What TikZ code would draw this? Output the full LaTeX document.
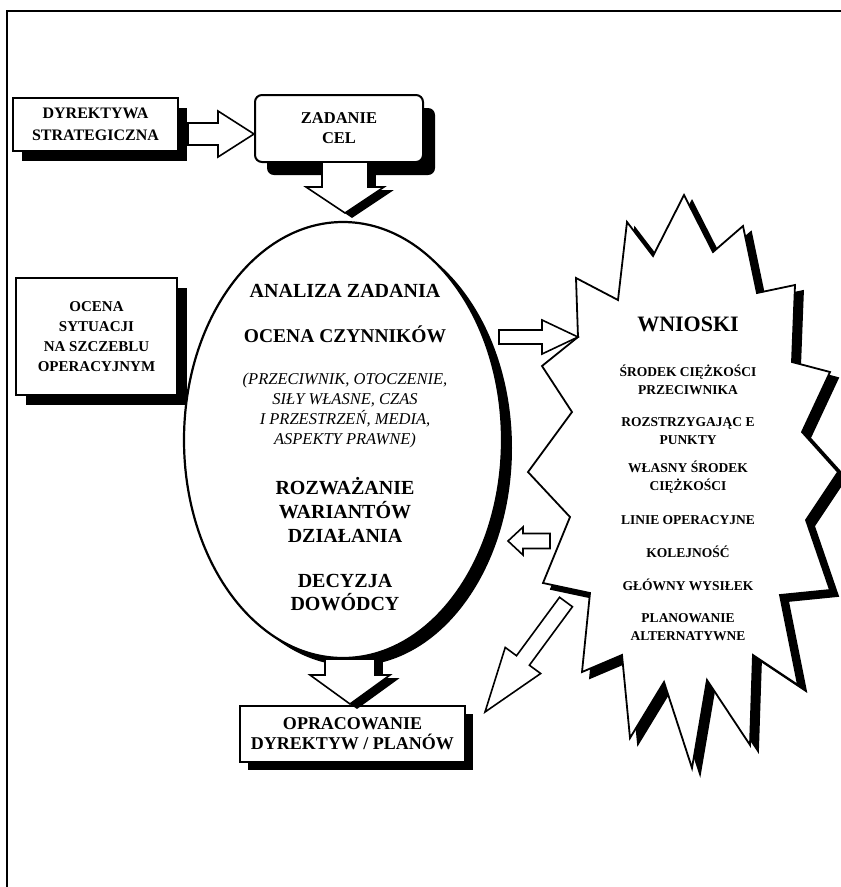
\documentclass[tikz,border=0pt]{standalone}
\usepackage{fontspec}
\setmainfont{Liberation Serif}
\usetikzlibrary{calc,shapes.geometric,shadows}

\tikzset{
  box/.style={draw, line width=2pt, fill=white, align=center, inner sep=2pt},
  shad/.style 2 args={drop shadow={shadow xshift=#1, shadow yshift=#2, fill=black, opacity=1}},
  txt/.style 2 args={align=center, inner sep=0pt, font=\bfseries\fontsize{#1}{#2}\selectfont},
  itxt/.style 2 args={align=center, inner sep=0pt, font=\itshape\fontsize{#1}{#2}\selectfont},
  frame/.style={line width=1.8pt},
}

\newcommand\blkarrow[6][]{%
  \coordinate (ba) at ($(#3)!#6!(#2)$);
  \filldraw[line width=1.6pt, line join=miter, fill=white, draw=black, #1]
    ($(#2)!#4!90:(#3)$) -- ($(ba)!#4!90:(#3)$) -- ($(ba)!#5!90:(#3)$) -- (#3)
    -- ($(ba)!#5!-90:(#3)$) -- ($(ba)!#4!-90:(#3)$) -- ($(#2)!#4!-90:(#3)$) -- cycle;}

\newcommand\burstpoly[1]{%
  \draw[#1] (578,337) -- (576,278) -- (618,300) -- (627,222) -- (653,256)
    -- (684,195) -- (713,252) -- (743,226) -- (757,293) -- (795,285)
    -- (792,362) -- (830,372) -- (802,432) -- (838,472) -- (806,520)
    -- (830,590) -- (780,595) -- (798,685) -- (753,655) -- (750,745)
    -- (707,680) -- (692,768) -- (664,682) -- (630,738) -- (622,655)
    -- (582,672) -- (590,593) -- (543,583) -- (570,517) -- (528,472)
    -- (572,412) -- (542,366) -- cycle;}

\begin{document}
\begin{tikzpicture}[x=1pt, y=-1pt]
\useasboundingbox[fill=white] (0,0) rectangle (841,887);

% frame
\draw[frame] (7,887) -- (7,11) -- (841,11);

% boxes
\node[box, shad={9pt}{-10pt}, minimum width=165pt, minimum height=53pt, txt={16}{22}]
  (dir) at (95.5,124.5) {DYREKTYWA\\STRATEGICZNA};
\node[box, rounded corners=7pt, shad={12pt}{-13pt}, minimum width=168pt, minimum height=67pt, txt={16.5}{20}]
  (zad) at (339,128.5) {ZADANIE\\CEL};
\node[box, shad={10pt}{-10pt}, minimum width=161pt, minimum height=117pt, txt={15}{20}]
  (oce) at (96.5,336.5) {OCENA\\SYTUACJI\\NA SZCZEBLU\\OPERACYJNYM};
\node[box, shad={8pt}{-8pt}, minimum width=225pt, minimum height=56pt, txt={18}{20}]
  (opr) at (352.5,734) {OPRACOWANIE\\DYREKTYW / PLANÓW};

% ellipse
\node[ellipse, draw, line width=2.2pt, fill=white, minimum width=318pt, minimum height=436pt,
  inner sep=0pt, shad={10pt}{-8pt}] (ell) at (343,440) {};
\node[txt={20}{24}] (e1) at (345,291) {ANALIZA ZADANIA};
\node[txt={19.5}{24}] (e2) at (345,334) {OCENA CZYNNIKÓW};
\node[itxt={16.5}{20}] (e3) at (345,411) {(PRZECIWNIK, OTOCZENIE,\\SIŁY WŁASNE, CZAS\\I PRZESTRZEŃ, MEDIA,\\ASPEKTY PRAWNE)};
\node[txt={20}{24}] (e4) at (345,510) {ROZWAŻANIE\\WARIANTÓW\\DZIAŁANIA};
\node[txt={20}{23}] (e5) at (345,593) {DECYZJA\\DOWÓDCY};

% burst
\burstpoly{fill=black, draw=black, line width=1.8pt, shift={(8,6)}}
\burstpoly{fill=white, draw=black, line width=1.8pt}
\node[txt={22}{26}] (w0) at (688,324) {WNIOSKI};
\node[txt={13.5}{18}] (w1) at (688,380) {ŚRODEK CIĘŻKOŚCI\\PRZECIWNIKA};
\node[txt={13.5}{18}] (w2) at (688,431) {ROZSTRZYGAJĄC E\\PUNKTY};
\node[txt={13.5}{18}] (w3) at (688,477) {WŁASNY ŚRODEK\\CIĘŻKOŚCI};
\node[txt={13.5}{18}] (w4) at (688,520) {LINIE OPERACYJNE};
\node[txt={13.5}{18}] (w5) at (688,552) {KOLEJNOŚĆ};
\node[txt={13.5}{18}] (w6) at (688,585) {GŁÓWNY WYSIŁEK};
\node[txt={13.5}{18}] (w7) at (688,627) {PLANOWANIE\\ALTERNATYWNE};

% connector end points
\coordinate (a1s) at (188,134);  \coordinate (a1e) at (254,134);
\coordinate (a2s) at (345,162);  \coordinate (a2e) at (345,213);
\coordinate (a3s) at (499,337);  \coordinate (a3e) at (578,337);
\coordinate (a4s) at (550,541);  \coordinate (a4e) at (508,541);
\coordinate (a5s) at (566,602);  \coordinate (a5e) at (485,712);
\coordinate (a6s) at (350,659);  \coordinate (a6e) at (350,704);

% block arrows
\blkarrow{a1s}{a1e}{11pt}{23pt}{36pt}
\blkarrow[fill=black, transform canvas={xshift=7pt, yshift=-4pt}]{a2s}{a2e}{23pt}{39pt}{26pt}
\blkarrow{a2s}{a2e}{23pt}{39pt}{26pt}
\blkarrow{a3s}{a3e}{7pt}{17pt}{36pt}
\blkarrow{a4s}{a4e}{7.5pt}{14pt}{15pt}
\blkarrow{a5s}{a5e}{8pt}{22pt}{64pt}
\blkarrow[fill=black, transform canvas={xshift=7pt, yshift=-4pt}]{a6s}{a6e}{25pt}{40pt}{29pt}
\blkarrow{a6s}{a6e}{25pt}{40pt}{29pt}
\end{tikzpicture}
\end{document}
